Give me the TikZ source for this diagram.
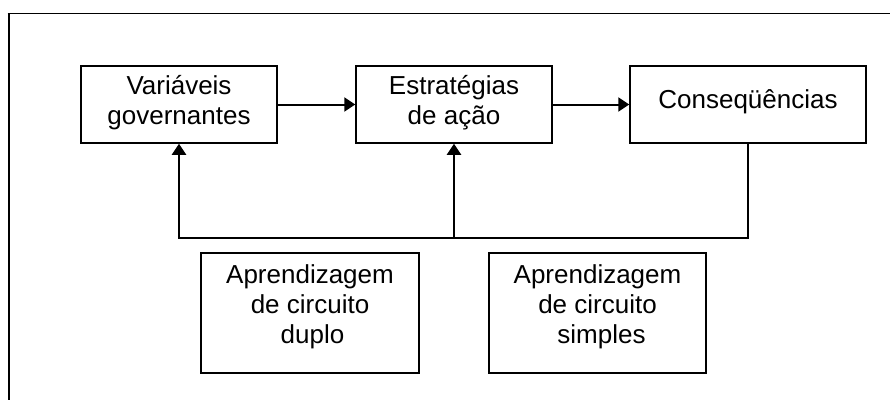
\documentclass[tikz,border=0pt]{standalone}
\usepackage{fontspec}
\setmainfont{Liberation Sans}
\usetikzlibrary{arrows.meta}
\tikzset{
  box/.style={draw, line width=1.5pt, inner sep=0pt, align=center,
    font=\fontsize{26}{30}\selectfont},
  topbox/.style={box, minimum height=77pt, text depth=10pt},
  lowbox/.style={box, minimum height=120pt, text depth=18pt},
  conn/.style={line width=2pt, line join=miter},
  arr/.style={conn, -{Triangle[length=11pt,width=14pt]}},
}
\begin{document}
\begin{tikzpicture}[x=1pt,y=-1pt]
\useasboundingbox (0,0) rectangle (890,399);
% outer frame (left and top edges)
\draw[line width=2.7pt] (9,400) -- (9,13.3);
\draw[line width=1.4pt] (7.65,13.3) -- (891,13.3);
% top row
\node[topbox, minimum width=196pt] (vg) at (179,104.5) {Variáveis\\governantes};
\node[topbox, minimum width=196pt] (sa) at (454,104.5) {Estratégias\\de ação};
\node[topbox, minimum width=236pt] (co) at (748,104.5) {Conseqüências};
% bottom row
\node[lowbox, minimum width=218pt] (db) at (310,313) {Aprendizagem\\de circuito\\\hspace*{5pt}duplo};
\node[lowbox, minimum width=217pt] (cs) at (597.5,313) {Aprendizagem\\de circuito\\\hspace*{8pt}simples};
% connectors
\draw[arr] (vg.east) -- (sa.west);
\draw[arr] (sa.east) -- (co.west);
\coordinate (busR) at (748,238);
\coordinate (busL) at (179,238);
\coordinate (busM) at (454,238);
\draw[arr] (co.south) -- (busR) -- (busL) -- (vg.south);
\draw[arr] (busM) -- (sa.south);
\end{tikzpicture}
\end{document}
